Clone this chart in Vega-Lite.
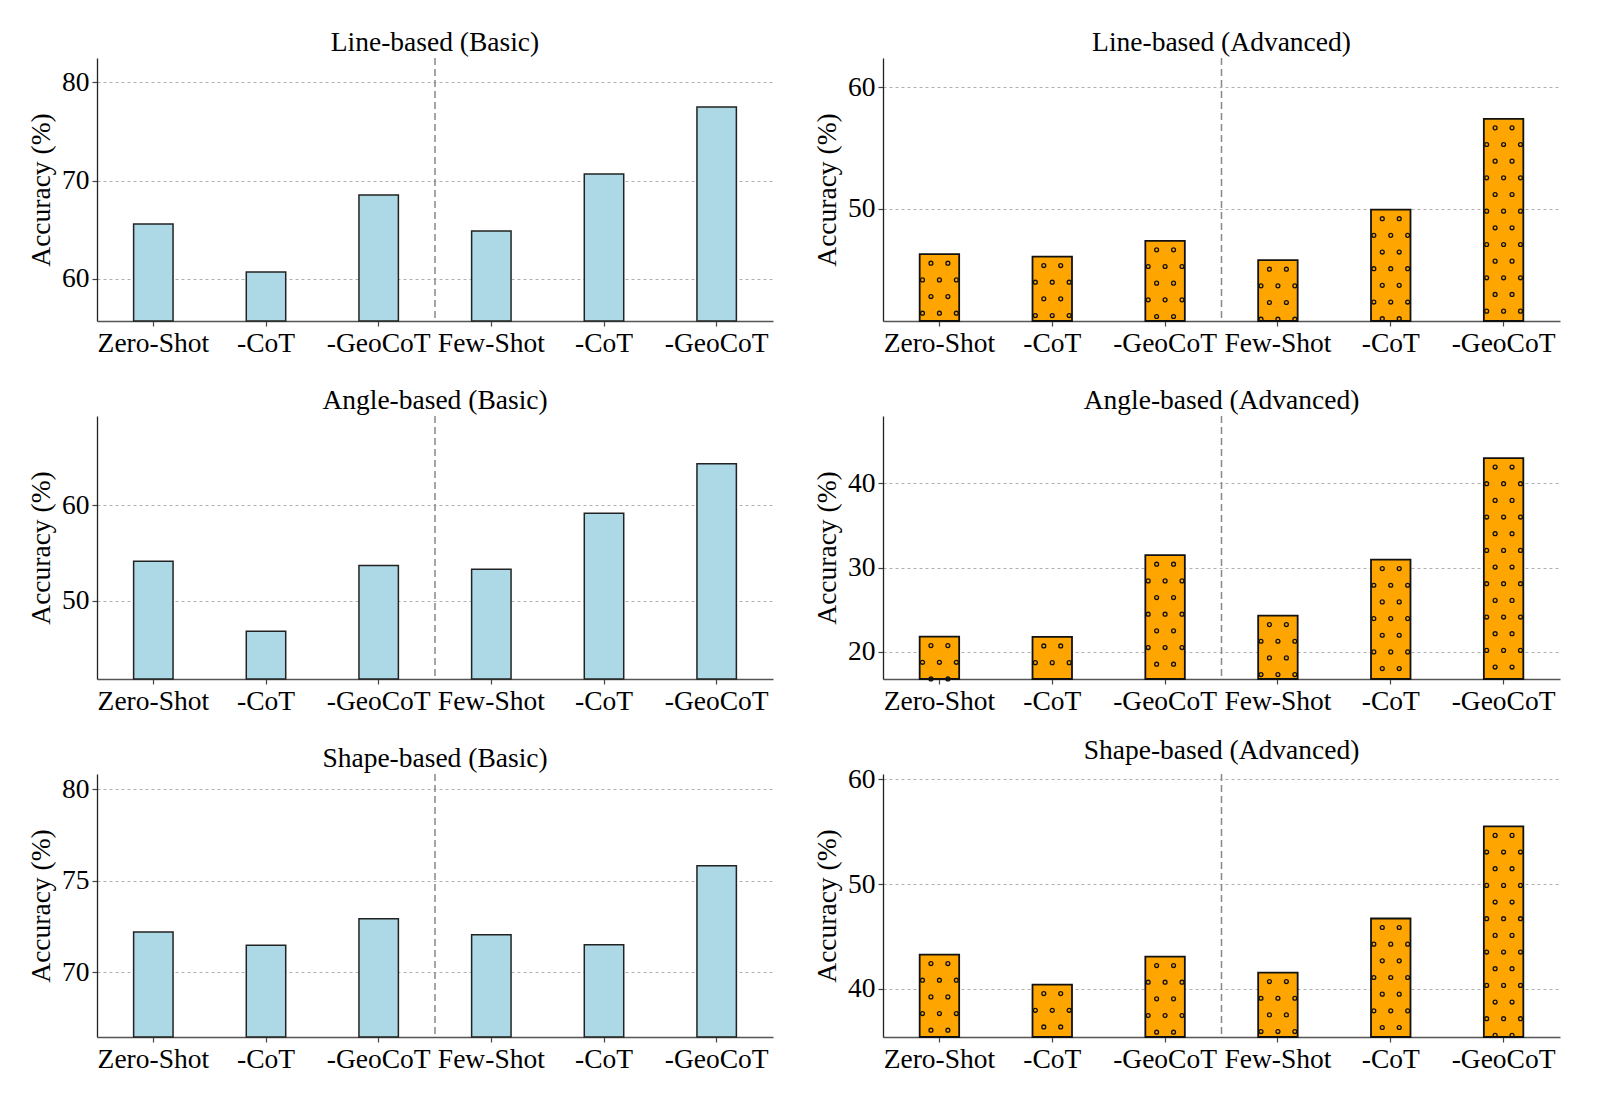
{
  "$schema": "https://vega.github.io/schema/vega-lite/v6.json",
  "background": "white",
  "padding": {"left": 27, "top": 28, "right": 5, "bottom": 5},
  "datasets": {
    "acc": [
      {"panel": "Line-based (Basic)", "method": "Zero-Shot", "acc": 65.58},
      {"panel": "Line-based (Basic)", "method": "Zero-Shot -CoT", "acc": 60.71},
      {"panel": "Line-based (Basic)", "method": "Zero-Shot -GeoCoT", "acc": 68.54},
      {"panel": "Line-based (Basic)", "method": "Few-Shot", "acc": 64.86},
      {"panel": "Line-based (Basic)", "method": "Few-Shot -CoT", "acc": 70.68},
      {"panel": "Line-based (Basic)", "method": "Few-Shot -GeoCoT", "acc": 77.48},
      {"panel": "Line-based (Advanced)", "method": "Zero-Shot", "acc": 46.26},
      {"panel": "Line-based (Advanced)", "method": "Zero-Shot -CoT", "acc": 46.07},
      {"panel": "Line-based (Advanced)", "method": "Zero-Shot -GeoCoT", "acc": 47.36},
      {"panel": "Line-based (Advanced)", "method": "Few-Shot", "acc": 45.77},
      {"panel": "Line-based (Advanced)", "method": "Few-Shot -CoT", "acc": 49.92},
      {"panel": "Line-based (Advanced)", "method": "Few-Shot -GeoCoT", "acc": 57.39},
      {"panel": "Angle-based (Basic)", "method": "Zero-Shot", "acc": 54.15},
      {"panel": "Angle-based (Basic)", "method": "Zero-Shot -CoT", "acc": 46.83},
      {"panel": "Angle-based (Basic)", "method": "Zero-Shot -GeoCoT", "acc": 53.69},
      {"panel": "Angle-based (Basic)", "method": "Few-Shot", "acc": 53.31},
      {"panel": "Angle-based (Basic)", "method": "Few-Shot -CoT", "acc": 59.16},
      {"panel": "Angle-based (Basic)", "method": "Few-Shot -GeoCoT", "acc": 64.32},
      {"panel": "Angle-based (Advanced)", "method": "Zero-Shot", "acc": 21.79},
      {"panel": "Angle-based (Advanced)", "method": "Zero-Shot -CoT", "acc": 21.75},
      {"panel": "Angle-based (Advanced)", "method": "Zero-Shot -GeoCoT", "acc": 31.47},
      {"panel": "Angle-based (Advanced)", "method": "Few-Shot", "acc": 24.29},
      {"panel": "Angle-based (Advanced)", "method": "Few-Shot -CoT", "acc": 30.95},
      {"panel": "Angle-based (Advanced)", "method": "Few-Shot -GeoCoT", "acc": 43.02},
      {"panel": "Shape-based (Basic)", "method": "Zero-Shot", "acc": 72.2},
      {"panel": "Shape-based (Basic)", "method": "Zero-Shot -CoT", "acc": 71.48},
      {"panel": "Shape-based (Basic)", "method": "Zero-Shot -GeoCoT", "acc": 72.93},
      {"panel": "Shape-based (Basic)", "method": "Few-Shot", "acc": 72.06},
      {"panel": "Shape-based (Basic)", "method": "Few-Shot -CoT", "acc": 71.51},
      {"panel": "Shape-based (Basic)", "method": "Few-Shot -GeoCoT", "acc": 75.82},
      {"panel": "Shape-based (Advanced)", "method": "Zero-Shot", "acc": 43.28},
      {"panel": "Shape-based (Advanced)", "method": "Zero-Shot -CoT", "acc": 40.41},
      {"panel": "Shape-based (Advanced)", "method": "Zero-Shot -GeoCoT", "acc": 43.09},
      {"panel": "Shape-based (Advanced)", "method": "Few-Shot", "acc": 41.56},
      {"panel": "Shape-based (Advanced)", "method": "Few-Shot -CoT", "acc": 46.72},
      {"panel": "Shape-based (Advanced)", "method": "Few-Shot -GeoCoT", "acc": 55.51}
    ]
  },
  "columns": 2,
  "bounds": "flush",
  "spacing": {"row": 95, "column": 110},
  "concat": [
    {
      "width": 676, "height": 263,
      "title": "Line-based (Basic)",
      "data": {"name": "acc"},
      "transform": [{"filter": "datum.panel === 'Line-based (Basic)'"}],
      "encoding": {
        "x": {"field": "method", "type": "nominal", "sort": null, "title": null, "scale": {"paddingInner": 0, "paddingOuter": -0.0575}, "axis": {"labelExpr": "indexof(datum.label, ' ') > 0 ? substring(datum.label, indexof(datum.label, ' ') + 1) : datum.label"}},
        "y": {"field": "acc", "type": "quantitative", "title": "Accuracy (%)", "scale": {"domain": [55.71, 82.48], "nice": false, "zero": false}, "axis": {"values": [60, 70, 80], "title": "Accuracy (%)"}}
      },
      "layer": [
        {"mark": {"type": "bar", "width": {"band": 0.35}, "fill": "#ADD8E6", "stroke": "#222222", "strokeWidth": 1.5}, "encoding": {"y2": {"datum": 55.71}}},
        {"transform": [{"filter": "datum.method === 'Few-Shot'"}], "mark": {"type": "rule", "stroke": "#888888", "strokeWidth": 1.5, "strokeDash": [7, 4]}, "encoding": {"x": {"field": "method", "type": "nominal", "bandPosition": 0}, "y": {"value": 0}, "y2": {"value": "height"}}}
      ]
    },
    {
      "width": 677, "height": 263,
      "title": "Line-based (Advanced)",
      "data": {"name": "acc"},
      "transform": [{"filter": "datum.panel === 'Line-based (Advanced)'"}],
      "encoding": {
        "x": {"field": "method", "type": "nominal", "sort": null, "title": null, "scale": {"paddingInner": 0, "paddingOuter": -0.0575}, "axis": {"labelExpr": "indexof(datum.label, ' ') > 0 ? substring(datum.label, indexof(datum.label, ' ') + 1) : datum.label"}},
        "y": {"field": "acc", "type": "quantitative", "title": "Accuracy (%)", "scale": {"domain": [40.77, 62.39], "nice": false, "zero": false}, "axis": {"values": [50, 60], "title": "Accuracy (%)"}}
      },
      "layer": [
        {"mark": {"type": "bar", "width": {"band": 0.35}, "fill": "#FFA500", "strokeWidth": 0}, "encoding": {"y2": {"datum": 40.77}}},
        {"mark": {"type": "rule", "stroke": "#111111", "strokeWidth": 5.2, "strokeCap": "round", "strokeDash": [0.01, 33.32], "strokeDashOffset": 24.33}, "encoding": {"x": {"field": "method", "type": "nominal", "bandPosition": 0.425}, "y2": {"datum": 40.77}}},
        {"mark": {"type": "rule", "stroke": "#111111", "strokeWidth": 5.2, "strokeCap": "round", "strokeDash": [0.01, 33.32], "strokeDashOffset": 24.33}, "encoding": {"x": {"field": "method", "type": "nominal", "bandPosition": 0.575}, "y2": {"datum": 40.77}}},
        {"mark": {"type": "rule", "stroke": "#111111", "strokeWidth": 5.2, "strokeCap": "round", "strokeDash": [0.01, 33.32], "strokeDashOffset": 7.66}, "encoding": {"x": {"field": "method", "type": "nominal", "bandPosition": 0.35}, "y2": {"datum": 40.77}}},
        {"mark": {"type": "rule", "stroke": "#111111", "strokeWidth": 5.2, "strokeCap": "round", "strokeDash": [0.01, 33.32], "strokeDashOffset": 7.66}, "encoding": {"x": {"field": "method", "type": "nominal", "bandPosition": 0.5}, "y2": {"datum": 40.77}}},
        {"mark": {"type": "rule", "stroke": "#111111", "strokeWidth": 5.2, "strokeCap": "round", "strokeDash": [0.01, 33.32], "strokeDashOffset": 7.66}, "encoding": {"x": {"field": "method", "type": "nominal", "bandPosition": 0.65}, "y2": {"datum": 40.77}}},
        {"mark": {"type": "rule", "stroke": "#FFA500", "strokeWidth": 2.6, "strokeCap": "round", "strokeDash": [0.01, 33.32], "strokeDashOffset": 24.33}, "encoding": {"x": {"field": "method", "type": "nominal", "bandPosition": 0.425}, "y2": {"datum": 40.77}}},
        {"mark": {"type": "rule", "stroke": "#FFA500", "strokeWidth": 2.6, "strokeCap": "round", "strokeDash": [0.01, 33.32], "strokeDashOffset": 24.33}, "encoding": {"x": {"field": "method", "type": "nominal", "bandPosition": 0.575}, "y2": {"datum": 40.77}}},
        {"mark": {"type": "rule", "stroke": "#FFA500", "strokeWidth": 2.6, "strokeCap": "round", "strokeDash": [0.01, 33.32], "strokeDashOffset": 7.66}, "encoding": {"x": {"field": "method", "type": "nominal", "bandPosition": 0.35}, "y2": {"datum": 40.77}}},
        {"mark": {"type": "rule", "stroke": "#FFA500", "strokeWidth": 2.6, "strokeCap": "round", "strokeDash": [0.01, 33.32], "strokeDashOffset": 7.66}, "encoding": {"x": {"field": "method", "type": "nominal", "bandPosition": 0.5}, "y2": {"datum": 40.77}}},
        {"mark": {"type": "rule", "stroke": "#FFA500", "strokeWidth": 2.6, "strokeCap": "round", "strokeDash": [0.01, 33.32], "strokeDashOffset": 7.66}, "encoding": {"x": {"field": "method", "type": "nominal", "bandPosition": 0.65}, "y2": {"datum": 40.77}}},
        {"mark": {"type": "bar", "width": {"band": 0.35}, "fillOpacity": 0, "stroke": "#111111", "strokeWidth": 1.8}, "encoding": {"y2": {"datum": 40.77}}},
        {"transform": [{"filter": "datum.method === 'Few-Shot'"}], "mark": {"type": "rule", "stroke": "#888888", "strokeWidth": 1.5, "strokeDash": [7, 4]}, "encoding": {"x": {"field": "method", "type": "nominal", "bandPosition": 0}, "y": {"value": 0}, "y2": {"value": "height"}}}
      ]
    },
    {
      "width": 676, "height": 263,
      "title": "Angle-based (Basic)",
      "data": {"name": "acc"},
      "transform": [{"filter": "datum.panel === 'Angle-based (Basic)'"}],
      "encoding": {
        "x": {"field": "method", "type": "nominal", "sort": null, "title": null, "scale": {"paddingInner": 0, "paddingOuter": -0.0575}, "axis": {"labelExpr": "indexof(datum.label, ' ') > 0 ? substring(datum.label, indexof(datum.label, ' ') + 1) : datum.label"}},
        "y": {"field": "acc", "type": "quantitative", "title": "Accuracy (%)", "scale": {"domain": [41.83, 69.32], "nice": false, "zero": false}, "axis": {"values": [50, 60], "title": "Accuracy (%)"}}
      },
      "layer": [
        {"mark": {"type": "bar", "width": {"band": 0.35}, "fill": "#ADD8E6", "stroke": "#222222", "strokeWidth": 1.5}, "encoding": {"y2": {"datum": 41.83}}},
        {"transform": [{"filter": "datum.method === 'Few-Shot'"}], "mark": {"type": "rule", "stroke": "#888888", "strokeWidth": 1.5, "strokeDash": [7, 4]}, "encoding": {"x": {"field": "method", "type": "nominal", "bandPosition": 0}, "y": {"value": 0}, "y2": {"value": "height"}}}
      ]
    },
    {
      "width": 677, "height": 263,
      "title": "Angle-based (Advanced)",
      "data": {"name": "acc"},
      "transform": [{"filter": "datum.panel === 'Angle-based (Advanced)'"}],
      "encoding": {
        "x": {"field": "method", "type": "nominal", "sort": null, "title": null, "scale": {"paddingInner": 0, "paddingOuter": -0.0575}, "axis": {"labelExpr": "indexof(datum.label, ' ') > 0 ? substring(datum.label, indexof(datum.label, ' ') + 1) : datum.label"}},
        "y": {"field": "acc", "type": "quantitative", "title": "Accuracy (%)", "scale": {"domain": [16.75, 48.02], "nice": false, "zero": false}, "axis": {"values": [20, 30, 40], "title": "Accuracy (%)"}}
      },
      "layer": [
        {"mark": {"type": "bar", "width": {"band": 0.35}, "fill": "#FFA500", "strokeWidth": 0}, "encoding": {"y2": {"datum": 16.75}}},
        {"mark": {"type": "rule", "stroke": "#111111", "strokeWidth": 5.2, "strokeCap": "round", "strokeDash": [0.01, 33.32], "strokeDashOffset": 24.33}, "encoding": {"x": {"field": "method", "type": "nominal", "bandPosition": 0.425}, "y2": {"datum": 16.75}}},
        {"mark": {"type": "rule", "stroke": "#111111", "strokeWidth": 5.2, "strokeCap": "round", "strokeDash": [0.01, 33.32], "strokeDashOffset": 24.33}, "encoding": {"x": {"field": "method", "type": "nominal", "bandPosition": 0.575}, "y2": {"datum": 16.75}}},
        {"mark": {"type": "rule", "stroke": "#111111", "strokeWidth": 5.2, "strokeCap": "round", "strokeDash": [0.01, 33.32], "strokeDashOffset": 7.66}, "encoding": {"x": {"field": "method", "type": "nominal", "bandPosition": 0.35}, "y2": {"datum": 16.75}}},
        {"mark": {"type": "rule", "stroke": "#111111", "strokeWidth": 5.2, "strokeCap": "round", "strokeDash": [0.01, 33.32], "strokeDashOffset": 7.66}, "encoding": {"x": {"field": "method", "type": "nominal", "bandPosition": 0.5}, "y2": {"datum": 16.75}}},
        {"mark": {"type": "rule", "stroke": "#111111", "strokeWidth": 5.2, "strokeCap": "round", "strokeDash": [0.01, 33.32], "strokeDashOffset": 7.66}, "encoding": {"x": {"field": "method", "type": "nominal", "bandPosition": 0.65}, "y2": {"datum": 16.75}}},
        {"mark": {"type": "rule", "stroke": "#FFA500", "strokeWidth": 2.6, "strokeCap": "round", "strokeDash": [0.01, 33.32], "strokeDashOffset": 24.33}, "encoding": {"x": {"field": "method", "type": "nominal", "bandPosition": 0.425}, "y2": {"datum": 16.75}}},
        {"mark": {"type": "rule", "stroke": "#FFA500", "strokeWidth": 2.6, "strokeCap": "round", "strokeDash": [0.01, 33.32], "strokeDashOffset": 24.33}, "encoding": {"x": {"field": "method", "type": "nominal", "bandPosition": 0.575}, "y2": {"datum": 16.75}}},
        {"mark": {"type": "rule", "stroke": "#FFA500", "strokeWidth": 2.6, "strokeCap": "round", "strokeDash": [0.01, 33.32], "strokeDashOffset": 7.66}, "encoding": {"x": {"field": "method", "type": "nominal", "bandPosition": 0.35}, "y2": {"datum": 16.75}}},
        {"mark": {"type": "rule", "stroke": "#FFA500", "strokeWidth": 2.6, "strokeCap": "round", "strokeDash": [0.01, 33.32], "strokeDashOffset": 7.66}, "encoding": {"x": {"field": "method", "type": "nominal", "bandPosition": 0.5}, "y2": {"datum": 16.75}}},
        {"mark": {"type": "rule", "stroke": "#FFA500", "strokeWidth": 2.6, "strokeCap": "round", "strokeDash": [0.01, 33.32], "strokeDashOffset": 7.66}, "encoding": {"x": {"field": "method", "type": "nominal", "bandPosition": 0.65}, "y2": {"datum": 16.75}}},
        {"mark": {"type": "bar", "width": {"band": 0.35}, "fillOpacity": 0, "stroke": "#111111", "strokeWidth": 1.8}, "encoding": {"y2": {"datum": 16.75}}},
        {"transform": [{"filter": "datum.method === 'Few-Shot'"}], "mark": {"type": "rule", "stroke": "#888888", "strokeWidth": 1.5, "strokeDash": [7, 4]}, "encoding": {"x": {"field": "method", "type": "nominal", "bandPosition": 0}, "y": {"value": 0}, "y2": {"value": "height"}}}
      ]
    },
    {
      "width": 676, "height": 263,
      "title": "Shape-based (Basic)",
      "data": {"name": "acc"},
      "transform": [{"filter": "datum.panel === 'Shape-based (Basic)'"}],
      "encoding": {
        "x": {"field": "method", "type": "nominal", "sort": null, "title": null, "scale": {"paddingInner": 0, "paddingOuter": -0.0575}, "axis": {"labelExpr": "indexof(datum.label, ' ') > 0 ? substring(datum.label, indexof(datum.label, ' ') + 1) : datum.label"}},
        "y": {"field": "acc", "type": "quantitative", "title": "Accuracy (%)", "scale": {"domain": [66.48, 80.82], "nice": false, "zero": false}, "axis": {"values": [70, 75, 80], "title": "Accuracy (%)"}}
      },
      "layer": [
        {"mark": {"type": "bar", "width": {"band": 0.35}, "fill": "#ADD8E6", "stroke": "#222222", "strokeWidth": 1.5}, "encoding": {"y2": {"datum": 66.48}}},
        {"transform": [{"filter": "datum.method === 'Few-Shot'"}], "mark": {"type": "rule", "stroke": "#888888", "strokeWidth": 1.5, "strokeDash": [7, 4]}, "encoding": {"x": {"field": "method", "type": "nominal", "bandPosition": 0}, "y": {"value": 0}, "y2": {"value": "height"}}}
      ]
    },
    {
      "width": 677, "height": 263,
      "title": "Shape-based (Advanced)",
      "data": {"name": "acc"},
      "transform": [{"filter": "datum.panel === 'Shape-based (Advanced)'"}],
      "encoding": {
        "x": {"field": "method", "type": "nominal", "sort": null, "title": null, "scale": {"paddingInner": 0, "paddingOuter": -0.0575}, "axis": {"labelExpr": "indexof(datum.label, ' ') > 0 ? substring(datum.label, indexof(datum.label, ' ') + 1) : datum.label"}},
        "y": {"field": "acc", "type": "quantitative", "title": "Accuracy (%)", "scale": {"domain": [35.41, 60.51], "nice": false, "zero": false}, "axis": {"values": [40, 50, 60], "title": "Accuracy (%)"}}
      },
      "layer": [
        {"mark": {"type": "bar", "width": {"band": 0.35}, "fill": "#FFA500", "strokeWidth": 0}, "encoding": {"y2": {"datum": 35.41}}},
        {"mark": {"type": "rule", "stroke": "#111111", "strokeWidth": 5.2, "strokeCap": "round", "strokeDash": [0.01, 33.32], "strokeDashOffset": 24.33}, "encoding": {"x": {"field": "method", "type": "nominal", "bandPosition": 0.425}, "y2": {"datum": 35.41}}},
        {"mark": {"type": "rule", "stroke": "#111111", "strokeWidth": 5.2, "strokeCap": "round", "strokeDash": [0.01, 33.32], "strokeDashOffset": 24.33}, "encoding": {"x": {"field": "method", "type": "nominal", "bandPosition": 0.575}, "y2": {"datum": 35.41}}},
        {"mark": {"type": "rule", "stroke": "#111111", "strokeWidth": 5.2, "strokeCap": "round", "strokeDash": [0.01, 33.32], "strokeDashOffset": 7.66}, "encoding": {"x": {"field": "method", "type": "nominal", "bandPosition": 0.35}, "y2": {"datum": 35.41}}},
        {"mark": {"type": "rule", "stroke": "#111111", "strokeWidth": 5.2, "strokeCap": "round", "strokeDash": [0.01, 33.32], "strokeDashOffset": 7.66}, "encoding": {"x": {"field": "method", "type": "nominal", "bandPosition": 0.5}, "y2": {"datum": 35.41}}},
        {"mark": {"type": "rule", "stroke": "#111111", "strokeWidth": 5.2, "strokeCap": "round", "strokeDash": [0.01, 33.32], "strokeDashOffset": 7.66}, "encoding": {"x": {"field": "method", "type": "nominal", "bandPosition": 0.65}, "y2": {"datum": 35.41}}},
        {"mark": {"type": "rule", "stroke": "#FFA500", "strokeWidth": 2.6, "strokeCap": "round", "strokeDash": [0.01, 33.32], "strokeDashOffset": 24.33}, "encoding": {"x": {"field": "method", "type": "nominal", "bandPosition": 0.425}, "y2": {"datum": 35.41}}},
        {"mark": {"type": "rule", "stroke": "#FFA500", "strokeWidth": 2.6, "strokeCap": "round", "strokeDash": [0.01, 33.32], "strokeDashOffset": 24.33}, "encoding": {"x": {"field": "method", "type": "nominal", "bandPosition": 0.575}, "y2": {"datum": 35.41}}},
        {"mark": {"type": "rule", "stroke": "#FFA500", "strokeWidth": 2.6, "strokeCap": "round", "strokeDash": [0.01, 33.32], "strokeDashOffset": 7.66}, "encoding": {"x": {"field": "method", "type": "nominal", "bandPosition": 0.35}, "y2": {"datum": 35.41}}},
        {"mark": {"type": "rule", "stroke": "#FFA500", "strokeWidth": 2.6, "strokeCap": "round", "strokeDash": [0.01, 33.32], "strokeDashOffset": 7.66}, "encoding": {"x": {"field": "method", "type": "nominal", "bandPosition": 0.5}, "y2": {"datum": 35.41}}},
        {"mark": {"type": "rule", "stroke": "#FFA500", "strokeWidth": 2.6, "strokeCap": "round", "strokeDash": [0.01, 33.32], "strokeDashOffset": 7.66}, "encoding": {"x": {"field": "method", "type": "nominal", "bandPosition": 0.65}, "y2": {"datum": 35.41}}},
        {"mark": {"type": "bar", "width": {"band": 0.35}, "fillOpacity": 0, "stroke": "#111111", "strokeWidth": 1.8}, "encoding": {"y2": {"datum": 35.41}}},
        {"transform": [{"filter": "datum.method === 'Few-Shot'"}], "mark": {"type": "rule", "stroke": "#888888", "strokeWidth": 1.5, "strokeDash": [7, 4]}, "encoding": {"x": {"field": "method", "type": "nominal", "bandPosition": 0}, "y": {"value": 0}, "y2": {"value": "height"}}}
      ]
    }
  ],
  "config": {
    "font": "Liberation Serif",
    "view": {"stroke": null},
    "axis": {
      "labelFont": "Liberation Serif", "labelFontSize": 27.5, "labelColor": "black",
      "titleFont": "Liberation Serif", "titleFontSize": 27.5, "titleFontWeight": "normal", "titleColor": "black",
      "domainColor": "#222222", "domainWidth": 1.3, "tickColor": "#444444", "tickSize": 5, "tickWidth": 1.2, "labelPadding": 3
    },
    "axisY": {"gridColor": "#b0b0b0", "gridDash": [3, 3], "gridWidth": 1, "titlePadding": 6},
    "axisX": {"grid": false, "labelAngle": 0, "domainColor": "#555555"},
    "title": {"font": "Liberation Serif", "fontSize": 27.5, "fontWeight": "normal", "color": "black", "offset": 1}
  }
}
